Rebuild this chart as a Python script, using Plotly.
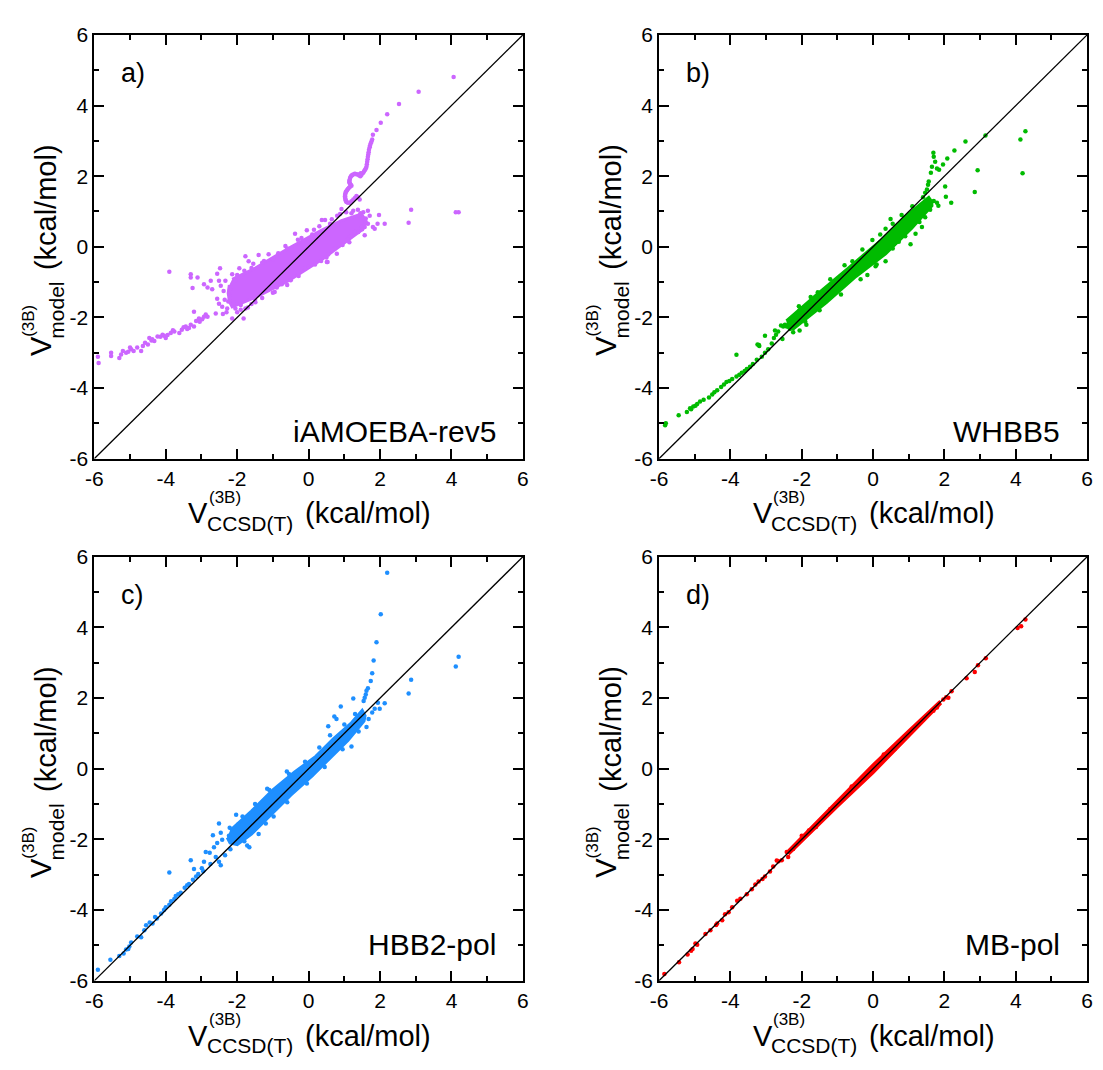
import plotly.graph_objects as go

W, H = 1103, 1070

tick_vals = [-6, -4, -2, 0, 2, 4, 6]
tick_text = ["-6", "-4", "-2", "0", "2", "4", "6"]
diag = [-6, 6]

panel_tags = ["a)", "b)", "c)", "d)"]
model_names = ["iAMOEBA-rev5", "WHBB5", "HBB2-pol", "MB-pol"]
colors = ["#cc66ff", "#00bb00", "#1e8fff", "#ff0000"]

# dense cores of the clouds (outline)
a_core = [(-2.14, -0.92), (-1.49, -0.60), (-0.56, -0.04), (0.37, 0.47), (0.92, 0.74), (1.48, 0.93),
          (1.56, 0.80), (1.56, 0.60), (1.48, 0.47), (0.92, 0.05), (0.37, -0.36), (-0.56, -0.96),
          (-1.49, -1.43), (-2.14, -1.70), (-2.22, -1.55), (-2.25, -1.30), (-2.22, -1.08)]
b_core = [(-2.43, -2.10), (-1.59, -1.36), (-0.67, -0.58), (0.26, 0.22), (0.91, 0.86), (1.56, 1.40),
          (1.64, 1.28), (1.65, 1.16), (1.09, 0.53), (0.35, -0.20), (-0.48, -0.84), (-1.31, -1.58),
          (-2.24, -2.33), (-2.40, -2.28)]
c_core = [(-2.2, -1.75), (-1.6, -1.2), (-1.0, -0.6), (-0.4, -0.1), (0.2, 0.35), (0.7, 0.85), (1.2, 1.3),
          (1.5, 1.65), (1.58, 1.5), (1.55, 1.35), (1.1, 0.8), (0.6, 0.3), (0.1, -0.2), (-0.5, -0.75),
          (-1.1, -1.35), (-1.6, -1.85), (-2.0, -2.15), (-2.2, -2.1), (-2.28, -1.95)]
d_core = [(-2.4, -2.35), (-1.0, -0.93), (0.0, 0.11), (1.0, 1.07), (1.85, 1.88),
          (1.88, 1.83), (1.0, 0.93), (0.0, -0.11), (-1.0, -1.07), (-2.37, -2.42)]

# individual points
a_points = [
    (-5.88, -3.29), (-5.90, -3.11), (-5.53, -3.00), (-5.53, -3.09), (-5.30, -3.15), (-5.20, -2.95),
    (-5.11, -3.00), (-4.97, -2.90), (-5.05, -2.97), (-5.25, -3.05), (-4.69, -2.95), (-4.64, -2.81),
    (-4.50, -2.77), (-4.46, -2.58), (-4.32, -2.67), (-4.23, -2.54), (-4.09, -2.49), (-4.00, -2.58),
    (-3.86, -2.44), (-3.76, -2.40), (-3.62, -2.44), (-3.44, -2.26), (-3.30, -2.21), (-3.21, -2.26),
    (-3.21, -1.84), (-3.07, -2.03), (-2.93, -1.98), (-2.83, -1.98), (-4.15, -2.55), (-4.40, -2.65),
    (-4.80, -2.85), (-3.95, -2.50), (-3.55, -2.35), (-3.35, -2.30), (-2.98, -2.05), (-3.15, -2.10),
    (-5.00, -2.85), (-4.90, -2.95), (-4.58, -2.72), (-4.38, -2.62), (-4.05, -2.52), (-3.80, -2.36),
    (-3.50, -2.28), (-3.40, -2.33), (-3.05, -2.12), (-2.88, -1.92),
    (-3.90, -0.71), (-3.25, -1.17), (-3.30, -0.78), (-3.30, -0.87), (-3.11, -0.87), (-2.93, -1.06),
    (-2.83, -1.15), (-2.74, -0.96), (-2.70, -1.20), (-2.56, -0.76), (-2.48, -0.61), (-2.51, -0.96),
    (-2.46, -1.10), (-2.56, -1.47), (-2.51, -1.61), (-2.60, -1.89), (-2.42, -1.70), (-2.28, -1.75),
    (-2.14, -2.03), (-2.09, -1.61), (-1.82, -2.03), (-1.70, -1.72), (-2.23, -1.34), (-2.33, -0.96),
    (-2.14, -0.78), (-1.94, -0.61), (-1.77, -0.27), (-1.68, -0.41), (-1.40, -0.23), (-1.12, -0.21),
    (-1.03, -1.01), (-0.89, -1.15), (-2.38, -1.25), (-2.35, -1.50), (-2.30, -1.85), (-2.40, -1.90),
    (-2.00, -1.85), (-1.90, -1.78), (-1.60, -1.62), (-1.30, -1.45), (-0.95, -1.28), (-0.60, -1.08),
    (-2.00, -0.80), (-1.80, -0.68), (-1.55, -0.48), (-1.25, -0.40), (-0.85, -0.18), (-0.65, 0.02),
    (-0.38, 0.37), (-0.05, 0.47), (0.37, 0.76), (0.46, 0.76), (0.92, 1.07), (0.88, 0.93),
    (-0.20, 0.25), (0.15, 0.48), (0.30, 0.58), (0.65, 0.78), (0.80, 0.88), (1.05, 0.98),
    (1.25, 1.02), (1.38, 1.05),
    (-1.49, -1.57), (-1.77, -1.75), (-1.12, -1.20), (-0.75, -1.06), (-0.28, -0.83), (0.18, -0.50),
    (0.74, -0.04), (1.29, 0.42), (1.57, 0.56), (1.66, 0.65), (-0.10, -0.62), (0.35, -0.40),
    (0.55, -0.22), (0.95, 0.05), (1.15, 0.28),
    (2.87, 1.05), (2.80, 0.68), (4.12, 0.98), (4.20, 0.98), (1.97, 0.90), (2.13, 0.65), (1.93, 0.65),
    (1.80, 0.56), (1.85, 0.51), (1.57, 0.33), (1.66, 1.02), (1.71, 0.88), (1.57, 0.65), (1.48, 0.56),
    (1.39, 0.42), (1.14, 0.13), (0.79, -0.20), (0.53, -0.43), (1.53, 0.98), (0.51, -0.43),
    (-2.2, -1.2), (-2.2, -1.45), (-2.25, -1.55), (-2.05, -0.95), (-1.9, -0.85), (-1.6, -0.6),
    (-1.3, -0.45), (-1.0, -0.35), (-0.6, -0.05), (-0.3, 0.2), (0.1, 0.35), (0.6, 0.65), (1.2, 0.95),
    (1.45, 0.95), (1.6, 0.8), (1.6, 0.7), (1.5, 0.5), (1.1, 0.2), (0.5, -0.3), (0.0, -0.55),
    (-0.5, -0.95), (-1.0, -1.3), (-1.5, -1.5), (-1.9, -1.65), (-2.05, -1.75),
    # the trail rising above the line
    (4.06, 4.81), (3.08, 4.39), (2.53, 4.04), (2.20, 3.75), (2.02, 3.51), (1.90, 3.31), (1.80, 3.17),
    (1.78, 3.04), (1.76, 2.98), (1.74, 2.93), (1.72, 2.87), (1.71, 2.82), (1.69, 2.75), (1.68, 2.68),
    (1.67, 2.61), (1.66, 2.55), (1.65, 2.48), (1.64, 2.41), (1.63, 2.34), (1.62, 2.27), (1.60, 2.22),
    (1.58, 2.18), (1.55, 2.14), (1.53, 2.10), (1.48, 2.06), (1.43, 2.04), (1.40, 2.05), (1.36, 2.05),
    (1.32, 2.06), (1.29, 2.07), (1.25, 2.05), (1.22, 2.03), (1.20, 2.01), (1.18, 1.99), (1.16, 1.95),
    (1.15, 1.90), (1.14, 1.86), (1.14, 1.82), (1.16, 1.79), (1.18, 1.76), (1.20, 1.73), (1.16, 1.70),
    (1.13, 1.67), (1.10, 1.64), (1.08, 1.61), (1.06, 1.58), (1.04, 1.55), (1.03, 1.51), (1.02, 1.47),
    (1.02, 1.43), (1.02, 1.39), (1.03, 1.35), (1.04, 1.32), (1.05, 1.29), (1.06, 1.27), (1.10, 1.25),
    (1.15, 1.25), (1.20, 1.29), (1.25, 1.34), (1.30, 1.39), (1.34, 1.44), (1.38, 1.40), (1.43, 1.34),
    (1.48, 2.04), (1.45, 2.00), (1.46, 2.08), (1.42, 2.02),
]
b_points = [
    (4.27, 3.27), (4.13, 3.04), (4.19, 2.08), (3.15, 3.15), (2.59, 2.98), (2.28, 2.73), (2.08, 2.50),
    (1.96, 2.33), (2.93, 2.17), (2.85, 1.55), (2.02, 1.71), (2.04, 1.42), (2.19, 1.25), (1.69, 2.66),
    (1.70, 2.55), (1.74, 2.41), (1.65, 2.27), (1.79, 2.22), (1.85, 2.18), (1.62, 2.10), (1.56, 1.85),
    (1.54, 1.76), (1.51, 1.62), (1.46, 1.53), (1.79, 1.25), (1.83, 1.16), (1.46, 0.84), (1.05, 0.07),
    (1.37, 0.56), (1.19, 0.37), (0.72, 0.14), (0.35, -0.41), (-0.16, -0.80), (0.07, -0.55),
    (0.49, 0.79), (0.35, 0.51), (-0.02, 0.19), (-0.58, -0.41), (-1.04, -1.01), (-1.55, -1.29),
    (-2.06, -1.80), (-2.58, -2.23), (-2.42, -2.26), (-2.75, -2.37), (-3.03, -2.52), (-3.20, -2.78),
    (-3.83, -3.06), (1.10, 1.15), (0.80, 0.90), (0.55, 0.65), (0.20, 0.35), (-0.30, -0.08),
    (-0.80, -0.52), (-1.20, -0.92), (-1.75, -1.42), (1.30, 0.70), (0.90, 0.30), (0.55, -0.05),
    (0.10, -0.50), (-0.35, -0.92), (-0.90, -1.35), (-1.50, -1.80), (-1.90, -2.12), (1.60, 1.05),
    (1.70, 1.30), (1.40, 1.40),
    (-5.81, -5.00), (-5.83, -5.05), (-5.45, -4.77), (-5.22, -4.68), (-5.13, -4.57), (-5.04, -4.52),
    (-4.93, -4.45), (-4.85, -4.38), (-4.60, -4.27), (-4.51, -4.18), (-4.37, -4.06), (-4.26, -3.97),
    (-4.11, -3.83), (-3.95, -3.74), (-3.83, -3.67), (-3.68, -3.57), (-3.54, -3.46), (-3.37, -3.32),
    (-3.26, -3.20), (-3.12, -3.11), (-3.03, -3.00), (-2.94, -2.90), (-3.24, -2.77), (-3.19, -2.81),
    (-2.84, -2.74), (-2.78, -2.58), (-2.72, -2.49), (-2.66, -2.40), (-2.54, -2.61), (-2.52, -2.26),
    (-2.47, -2.21), (-2.40, -2.23), (-2.33, -2.33), (-2.24, -2.42), (-2.08, -1.68), (-2.01, -1.84),
    (-2.15, -2.03), (-2.06, -2.37), (-1.87, -2.21),
    (-4.75, -4.33), (-4.45, -4.12), (-4.18, -3.90), (-4.03, -3.80), (-3.75, -3.62), (-3.60, -3.52),
    (-3.45, -3.40), (-5.10, -4.60), (-4.98, -4.50),
]
c_points = [
    (2.20, 5.55), (2.02, 4.37), (1.90, 3.58), (1.82, 3.06), (1.78, 2.70), (1.74, 2.48), (1.66, 2.28),
    (1.62, 2.21), (1.60, 2.10), (1.57, 2.01), (1.54, 1.92), (1.25, 1.99), (0.90, 1.76), (0.72, 1.48),
    (0.78, 1.41), (0.55, 1.20), (1.20, 0.63), (1.62, 1.18), (1.68, 1.41), (1.78, 1.59), (1.85, 1.70),
    (1.94, 1.87), (1.99, 1.70), (2.13, 1.85), (2.87, 2.52), (2.80, 2.13), (4.20, 3.17), (4.12, 2.89),
    (1.30, 1.55), (1.00, 1.25), (0.60, 0.95), (0.30, 0.60), (-0.10, 0.20), (-0.55, -0.15),
    (-1.10, -0.60), (-1.50, -1.00), (-1.85, -1.35), (1.40, 1.05), (0.95, 0.55), (0.45, 0.05),
    (-0.05, -0.42), (-0.60, -0.95), (-1.20, -1.55), (-1.80, -2.05), (-1.40, -1.85),
    (-5.90, -5.69), (-5.55, -5.41), (-5.30, -5.30), (-5.18, -5.23), (-5.11, -5.12), (-5.02, -5.03),
    (-4.97, -4.92), (-4.69, -4.77), (-4.60, -4.57), (-4.55, -4.43), (-4.37, -4.38), (-4.25, -4.24),
    (-4.13, -4.10), (-4.00, -3.92), (-3.90, -3.85), (-3.76, -3.69), (-3.72, -3.60), (-3.58, -3.51),
    (-3.47, -3.37), (-3.35, -3.26), (-3.24, -3.14), (-3.09, -2.98), (-3.90, -2.94), (-3.30, -2.59),
    (-3.21, -2.84), (-2.99, -2.82), (-2.93, -2.63), (-2.88, -2.36), (-2.77, -2.38), (-2.68, -1.88),
    (-2.65, -2.22), (-2.56, -2.10), (-2.51, -1.55), (-2.46, -1.81), (-2.42, -2.01), (-2.51, -2.63),
    (-2.46, -2.73), (-2.34, -2.45), (-2.21, -1.67), (-2.23, -1.90), (-2.19, -2.28), (-2.03, -1.30),
    (-1.97, -1.58), (-1.72, -2.17), (-1.66, -2.22), (-1.16, -0.57), (-0.98, -1.35), (-0.61, -0.08),
    (-5.05, -5.10), (-4.80, -4.75), (-4.45, -4.35), (-4.30, -4.20), (-4.05, -4.00), (-3.85, -3.75),
    (-3.65, -3.55), (-3.40, -3.30), (-3.15, -3.05), (-2.95, -2.90), (-2.75, -2.70), (-2.60, -2.50),
]
d_points = [
    (-5.85, -5.81), (-5.44, -5.48), (-5.20, -5.26), (-5.06, -5.10), (-4.93, -4.98), (-4.56, -4.57),
    (-4.37, -4.38), (-4.23, -4.29), (-4.05, -4.06), (-3.81, -3.74), (-3.72, -3.68), (-3.54, -3.55),
    (-3.40, -3.41), (-3.21, -3.19), (-3.03, -3.05), (-2.89, -2.91), (-2.80, -2.77), (-2.56, -2.59),
    (-2.42, -2.36), (-2.38, -2.50), (-2.24, -2.27), (2.20, 2.19), (2.11, 2.01), (2.62, 2.56),
    (2.85, 2.74), (2.94, 2.93), (3.16, 3.13), (4.15, 4.03), (4.27, 4.22), (4.05, 3.98), (1.97, 1.96),
    (1.79, 1.73), (1.69, 1.64), (-4.70, -4.68), (-4.15, -4.12), (-3.95, -3.92), (-3.30, -3.28),
    (-3.10, -3.12), (-2.65, -2.62), (-2.70, -2.60), (-5.10, -5.15), (-4.98, -4.95), (-4.40, -4.42),
    (2.05, 2.02), (-2.0, -1.9), (-1.8, -1.75), (-1.6, -1.65), (-1.2, -1.15), (-0.6, -0.5), (0.3, 0.4),
    (0.6, 0.55), (1.4, 1.38),
]

cores = [a_core, b_core, c_core, d_core]
points = [a_points, b_points, c_points, d_points]

# plot boxes in pixels: left, right, top, bottom
boxes = [(86.5, 521, 23.4, 456.5), (659, 1093, 23.4, 456.5),
         (86.5, 521, 556.7, 990), (659, 1093, 556.7, 990)]

FONT = "Liberation Sans, Arial, sans-serif"

fig = go.Figure()
annotations = []


def px(x):
    return x / W


def py(y):
    return 1 - y / H


def note(text, x, y, size, angle=0, xanchor="center"):
    annotations.append(dict(text=text, x=px(x), y=py(y), xref="paper", yref="paper",
                            showarrow=False, xanchor=xanchor, yanchor="middle", textangle=angle,
                            font=dict(family=FONT, size=size, color="black")))


for i in range(4):
    n = str(i + 1) if i else ""
    L, R, T, B = boxes[i]
    core = cores[i]
    pts = points[i]
    fig.add_trace(go.Scatter(x=[p[0] for p in core], y=[p[1] for p in core], mode="lines",
                             fill="toself", fillcolor=colors[i], line=dict(color=colors[i], width=3),
                             xaxis="x" + n, yaxis="y" + n, hoverinfo="skip"))
    fig.add_trace(go.Scatter(x=[p[0] for p in pts], y=[p[1] for p in pts], mode="markers",
                             marker=dict(color=colors[i], size=4.5, line=dict(width=0)),
                             xaxis="x" + n, yaxis="y" + n))
    fig.add_trace(go.Scatter(x=diag, y=diag, mode="lines", line=dict(color="black", width=1.3),
                             xaxis="x" + n, yaxis="y" + n))

    ax = dict(range=[-6, 6], tickvals=tick_vals, ticktext=tick_text, ticks="inside", ticklen=10,
              tickwidth=2, tickcolor="black", showline=True, linewidth=2, linecolor="black",
              mirror="ticks", showgrid=False, zeroline=False,
              minor=dict(dtick=1, ticks="inside", ticklen=5, tickwidth=2, tickcolor="black"),
              tickfont=dict(family=FONT, size=21, color="black"))
    fig.update_layout(**{
        "xaxis" + n: dict(ax, domain=[px(L), px(R)], anchor="y" + n),
        "yaxis" + n: dict(ax, domain=[py(B), py(T)], anchor="x" + n),
    })

    # panel tag and model name
    note(panel_tags[i], L + 39, T + 39, 27)
    note(model_names[i], R - 25, B - (28 if i < 2 else 37), 30, xanchor="right")

    # x title
    note("V", L + 105.5, B + 56, 29)
    note("(3B)", L + 132, B + 40, 17)
    note("CCSD(T)", L + 157.5, B + 66, 21)
    note("(kcal/mol)", L + 277, B + 56, 29)
    # y title
    note("V", L - 54, T + 318, 29, angle=-90)
    note("(3B)", L - 67, T + 292, 17, angle=-90)
    note("model", L - 38, T + 281, 21, angle=-90)
    note("(kcal/mol)", L - 49, T + 176, 29, angle=-90)

fig.update_layout(width=W, height=H, margin=dict(l=0, r=0, t=0, b=0), showlegend=False,
                  paper_bgcolor="white", plot_bgcolor="white", annotations=annotations)

# drop the page's default body margin so the figure sits at the window's corner
fig.write_html("out.html", config={"displayModeBar": False},
               post_script="document.body.style.margin = '0';")
